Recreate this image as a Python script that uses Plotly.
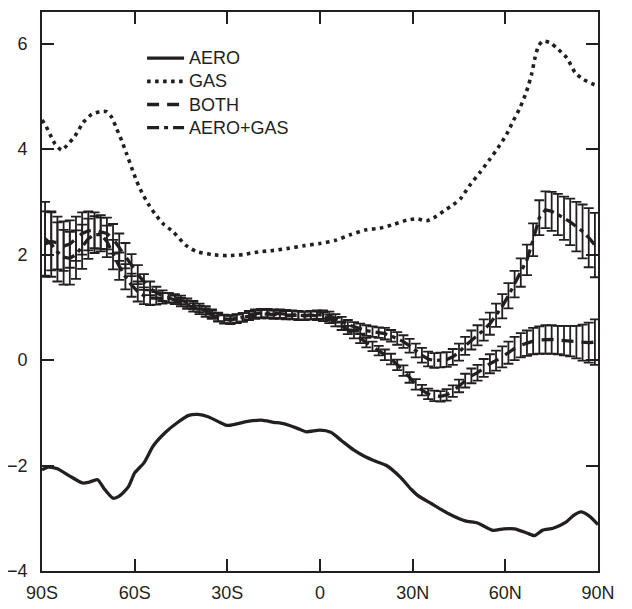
import plotly.graph_objects as go

# ---- AERO (solid line) ----
aero_lat = [-90, -88, -85, -81, -77, -75, -72, -70, -67, -65, -62, -60, -57, -54, -50, -46,
            -42.5, -39.5, -36, -32.5, -30, -27, -23, -19, -15, -11.5, -7.5, -4.5, 0, 3.5, 7,
            11, 14.5, 18, 21.5, 26, 29.5, 31.5, 36, 41.5, 47, 51, 56, 59.5, 63, 67, 69.5, 72,
            75.5, 79.5, 82, 84.5, 87, 90]
aero_val = [-2.08, -2.03, -2.06, -2.20, -2.33, -2.32, -2.27, -2.43, -2.62, -2.58, -2.40, -2.14,
            -1.95, -1.63, -1.37, -1.18, -1.05, -1.03, -1.08, -1.18, -1.24, -1.21, -1.16, -1.14,
            -1.18, -1.21, -1.29, -1.36, -1.33, -1.37, -1.53, -1.71, -1.83, -1.92, -2.00, -2.22,
            -2.45, -2.56, -2.72, -2.91, -3.05, -3.09, -3.23, -3.20, -3.20, -3.28, -3.33, -3.23,
            -3.19, -3.08, -2.95, -2.88, -2.95, -3.12]

# ---- GAS (dotted line) ----
gas_lat = [-90, -89, -87.4, -85.8, -83.6, -81.5, -79.3, -76.6, -73.9, -71.2, -69.1, -67.4,
           -65.8, -64.2, -62.6, -61, -59.4, -57.7, -55.6, -53.4, -50.7, -47.5, -43.5, -40,
           -35, -30, -25, -20, -15, -10, -5, 0, 5, 10, 15, 19.4, 23.7, 28, 31.3, 34.5, 37.5,
           40.4, 43.2, 45.5, 48.3, 51.8, 55, 57.7, 60.4, 62.6, 64.8, 66.9, 68.5, 69.6, 70.7,
           72.1, 74.5, 76.6, 79.9, 82.6, 85.3, 88.5, 90]
gas_val = [4.55, 4.47, 4.28, 4.10, 3.98, 4.10, 4.25, 4.51, 4.66, 4.71, 4.71, 4.60, 4.38, 4.16,
           3.91, 3.65, 3.40, 3.18, 2.96, 2.77, 2.58, 2.43, 2.18, 2.06, 2.00, 1.98, 2.00, 2.05,
           2.08, 2.12, 2.17, 2.21, 2.27, 2.38, 2.47, 2.50, 2.57, 2.65, 2.68, 2.64, 2.72, 2.84,
           2.95, 3.06, 3.30, 3.56, 3.81, 4.03, 4.28, 4.54, 4.79, 5.10, 5.42, 5.73, 5.95, 6.05,
           6.02, 5.92, 5.73, 5.45, 5.32, 5.23, 5.20]

# ---- BOTH and AERO+GAS (with error bars) on the model latitude grid ----
grid_lat = list(range(-89, 90, 2))

both_mean = [2.20, 2.25, 2.22, 2.16, 2.20, 2.30, 2.40, 2.45, 2.46, 2.43, 2.40, 2.30, 2.14, 1.98,
             1.80, 1.62, 1.48, 1.36, 1.28, 1.22, 1.18, 1.14, 1.10, 1.05, 1.00, 0.95, 0.90, 0.86,
             0.81, 0.78, 0.77, 0.79, 0.81, 0.84, 0.86, 0.87, 0.87, 0.86, 0.86, 0.85, 0.85, 0.84,
             0.84, 0.85, 0.84,
             0.82, 0.78, 0.72, 0.65, 0.57, 0.49, 0.41, 0.33, 0.26, 0.18, 0.10, 0.02, -0.09, -0.20,
             -0.33, -0.46, -0.57, -0.64, -0.68, -0.69, -0.66, -0.59, -0.49, -0.39, -0.30, -0.24,
             -0.15, -0.07, -0.01, 0.06, 0.14, 0.22, 0.28, 0.32, 0.36, 0.38, 0.39, 0.39, 0.38, 0.37,
             0.36, 0.34, 0.33, 0.33, 0.34]
both_err = [0.62, 0.55, 0.50, 0.47, 0.45, 0.42, 0.40, 0.37, 0.34, 0.32, 0.30, 0.28, 0.26, 0.24,
            0.21, 0.18, 0.15, 0.13, 0.11, 0.10, 0.09, 0.08, 0.08, 0.08, 0.08, 0.08, 0.08, 0.08,
            0.08, 0.08, 0.08, 0.08, 0.08, 0.08, 0.08, 0.08, 0.08, 0.08, 0.08, 0.08, 0.08, 0.08,
            0.08, 0.08, 0.08,
            0.08, 0.08, 0.08, 0.08, 0.08, 0.08, 0.09, 0.09, 0.09, 0.09, 0.10, 0.10, 0.10, 0.10,
            0.10, 0.10, 0.10, 0.10, 0.10, 0.10, 0.11, 0.11, 0.12, 0.13, 0.14, 0.15, 0.17, 0.18,
            0.19, 0.20, 0.21, 0.22, 0.23, 0.24, 0.25, 0.26, 0.27, 0.27, 0.27, 0.28, 0.29, 0.31,
            0.34, 0.38, 0.43]

ag_mean = [2.30, 2.20, 2.05, 1.95, 1.93, 2.00, 2.15, 2.30, 2.38, 2.38, 2.25, 2.00, 1.78, 1.58,
           1.42, 1.30, 1.22, 1.18, 1.17, 1.17, 1.18, 1.17, 1.14, 1.09, 1.04, 0.99, 0.94, 0.88,
           0.82, 0.77, 0.76, 0.78, 0.81, 0.85, 0.88, 0.89, 0.89, 0.88, 0.88, 0.87, 0.86, 0.85,
           0.84, 0.85, 0.86,
           0.86, 0.84, 0.79, 0.73, 0.67, 0.63, 0.59, 0.56, 0.54, 0.52, 0.50, 0.46, 0.41, 0.35,
           0.27, 0.18, 0.09, 0.02, -0.01, 0.00, 0.01, 0.06, 0.15, 0.27, 0.38, 0.47, 0.57, 0.69,
           0.85, 1.02, 1.22, 1.44, 1.66, 1.90, 2.28, 2.70, 2.85, 2.82, 2.76, 2.69, 2.62, 2.53,
           2.44, 2.32, 2.18]
ag_err = [0.70, 0.62, 0.56, 0.52, 0.50, 0.46, 0.42, 0.38, 0.35, 0.32, 0.30, 0.28, 0.26, 0.24,
          0.22, 0.19, 0.16, 0.14, 0.12, 0.10, 0.09, 0.08, 0.08, 0.08, 0.08, 0.08, 0.08, 0.08,
          0.08, 0.08, 0.08, 0.08, 0.08, 0.08, 0.08, 0.08, 0.08, 0.08, 0.08, 0.08, 0.08, 0.08,
          0.08, 0.08, 0.08,
          0.08, 0.08, 0.08, 0.09, 0.09, 0.09, 0.10, 0.10, 0.10, 0.10, 0.11, 0.11, 0.12, 0.12,
          0.13, 0.13, 0.14, 0.14, 0.14, 0.14, 0.14, 0.15, 0.16, 0.17, 0.18, 0.19, 0.20, 0.21,
          0.22, 0.23, 0.24, 0.25, 0.27, 0.29, 0.31, 0.33, 0.35, 0.37, 0.39, 0.41, 0.44, 0.47,
          0.51, 0.56, 0.61]

x_tickvals = [-90, -60, -30, 0, 30, 60, 90]
x_ticktext = ["90S", "60S", "30S", "0", "30N", "60N", "90N"]
y_tickvals = [-4, -2, 0, 2, 4, 6]
legend_names = ["AERO", "GAS", "BOTH", "AERO+GAS"]

INK = "#231f20"
FONT = "Liberation Sans, Arial, sans-serif"


def big(name):
    return '<span style="font-size:18px">' + name + "</span>"


fig = go.Figure()
fig.add_trace(go.Scatter(x=aero_lat, y=aero_val, mode="lines", name=big(legend_names[0]),
                         line=dict(color=INK, width=3.3, shape="spline", smoothing=0.6)))
fig.add_trace(go.Scatter(x=gas_lat, y=gas_val, mode="lines", name=big(legend_names[1]),
                         line=dict(color=INK, width=3.6, dash="3.6px,4.4px", shape="spline",
                                   smoothing=0.6)))
fig.add_trace(go.Scatter(x=grid_lat, y=both_mean, mode="lines", name=big(legend_names[2]),
                         line=dict(color=INK, width=3.3, dash="12px,8px"),
                         error_y=dict(type="data", array=both_err, visible=True,
                                      color=INK, thickness=1.8, width=5)))
fig.add_trace(go.Scatter(x=grid_lat, y=ag_mean, mode="lines", name=big(legend_names[3]),
                         line=dict(color=INK, width=3.3, dash="12px,5px,4px,5px"),
                         error_y=dict(type="data", array=ag_err, visible=True,
                                      color=INK, thickness=1.8, width=5)))

axis_common = dict(showline=True, linecolor=INK, linewidth=1.8, mirror="ticks",
                   ticks="inside", ticklen=12, tickwidth=1.6, tickcolor=INK,
                   showgrid=False, zeroline=False, automargin=False,
                   tickfont=dict(family=FONT, size=18, color=INK))

fig.update_xaxes(range=[-90, 90], tickvals=x_tickvals, ticktext=x_ticktext,
                 ticklabelstandoff=4, **axis_common)
fig.update_yaxes(range=[-4, 6.6], tickvals=y_tickvals, ticklabelstandoff=9, **axis_common)

fig.update_layout(
    template="none",
    width=624, height=601,
    margin=dict(l=34, r=34, t=4, b=38),
    paper_bgcolor="white", plot_bgcolor="white",
    showlegend=True,
    legend=dict(x=0.18, y=0.947, xanchor="left", yanchor="top",
                bgcolor="rgba(0,0,0,0)", borderwidth=0,
                font=dict(family=FONT, size=15.5, color=INK),
                tracegroupgap=0, itemwidth=37),
    font=dict(family=FONT, color=INK),
)

fig.write_html("out.html")
